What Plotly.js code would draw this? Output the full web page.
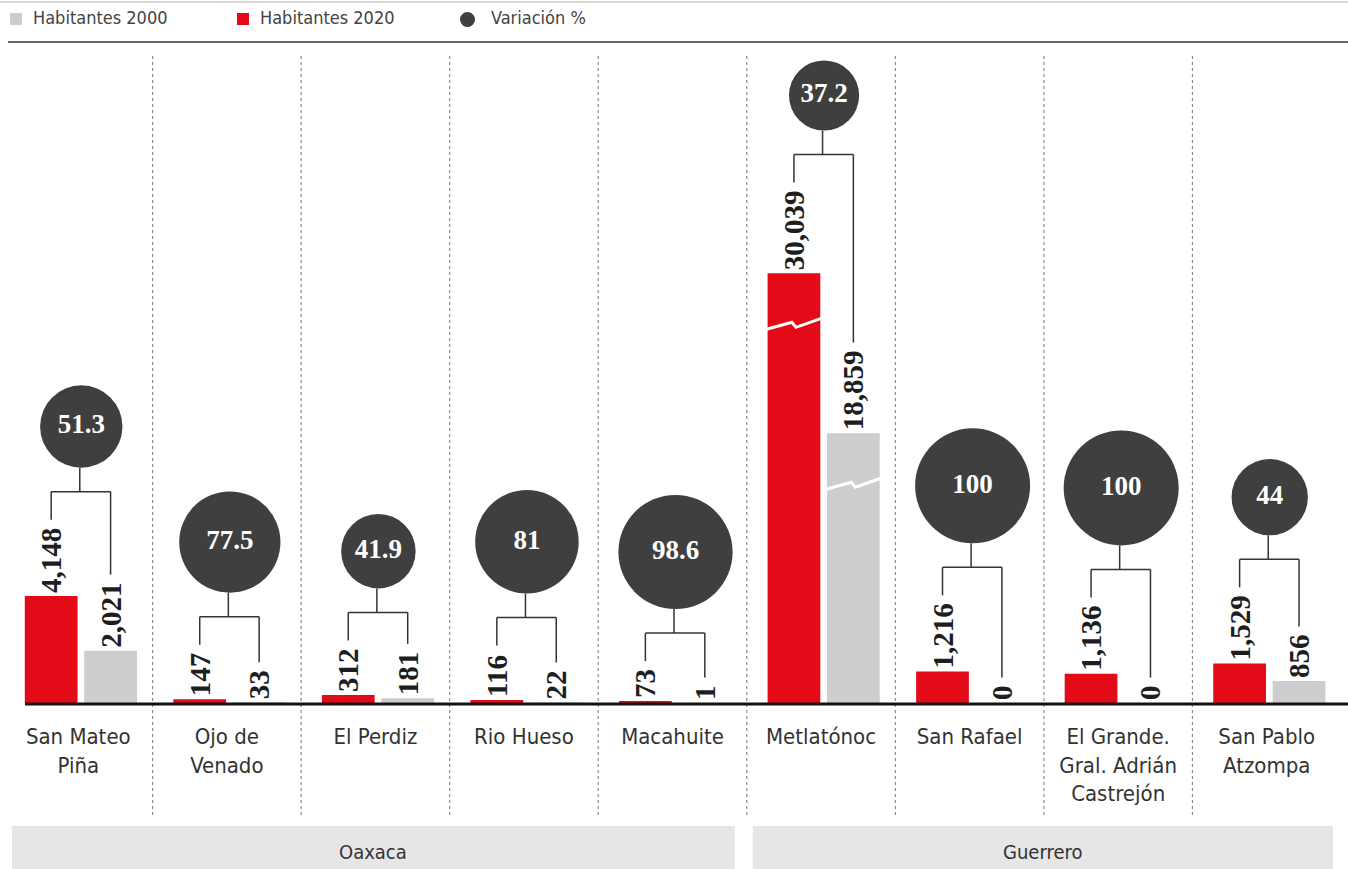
<!DOCTYPE html>
<html><head><meta charset="utf-8">
<script src="https://cdn.plot.ly/plotly-3.0.1.min.js"></script>
<style>html,body{margin:0;padding:0;background:#fff}#chart{width:1348px;height:869px}</style>
</head><body><div id="chart"></div>
<script>
// ---- data ----
const categories = ['San Mateo<br>Piña','Ojo de<br>Venado','El Perdiz','Rio Hueso','Macahuite','Metlatónoc','San Rafael','El Grande.<br>Gral. Adrián<br>Castrejón','San Pablo<br>Atzompa'];
const hab2020 = [4148, 147, 312, 116, 73, 30039, 1216, 1136, 1529];
const hab2000 = [2021, 33, 181, 22, 1, 18859, 0, 0, 856];
const variacion = [51.3, 77.5, 41.9, 81, 98.6, 37.2, 100, 100, 44];
const estados = ['Oaxaca','Oaxaca','Oaxaca','Oaxaca','Oaxaca','Guerrero','Guerrero','Guerrero','Guerrero'];
const legendNames = ['Habitantes 2000','Habitantes 2020','Variación %'];

// ---- layout geometry ----
const W = 1348, H = 869, L = 4, R = 7, T = 45, B = 166;
const plotW = W - L - R, plotH = H - T - B, baseY = H - B;
const n = categories.length, colW = plotW / n;
const yMax = 25500, y2Max = 46000;
const sMain = plotH / yMax, sBroken = plotH / y2Max;
const RED = '#e30b17', GRAY = '#cdcdcf', DARK = '#3f3f3f';
const serif = 'Liberation Serif, DejaVu Serif, serif';
const narrow = 'Liberation Sans Narrow, DejaVu Sans Condensed, Roboto, sans-serif';
const LBL = 29;
const redOff = -0.36, grayOff = 0.04, bw = 0.355;
const PX = i => L + (i + 0.5) * colW;
const PXo = (i, off) => L + (i + 0.5 + off) * colW;
const PX2 = px => (px - L) / plotW;
const PY2 = py => (baseY - py) / plotH;
const fmt = v => v.toLocaleString('en-US');
const labelLen = s => LBL * (0.5 * s.replace(/[^0-9]/g, '').length + 0.25 * (s.match(/,/g) || []).length);
const K = 11.5;               // circle diameter = K * sqrt(value) px
const diam = v => K * Math.sqrt(v);

const broken = hab2020.map((v, i) => Math.max(v, hab2000[i]) > yMax * 0.9);
const idx = categories.map((c, i) => i);

function barTrace(vals, off, color, name, useBroken) {
  return {
    type: 'bar', name: name, showlegend: false,
    x: idx, y: vals.map((v, i) => broken[i] === useBroken ? v : null),
    yaxis: useBroken ? 'y2' : 'y',
    offset: off, width: bw,
    marker: {color: color, line: {width: 0}},
    text: vals.map((v, i) => broken[i] === useBroken ? fmt(v) : ''),
    textposition: 'outside', textangle: -90, constraintext: 'none', cliponaxis: false,
    textfont: {family: serif, size: LBL, color: '#1e1e1e', weight: 700},
    hovertemplate: '%{y:,}<extra>' + name + '</extra>'
  };
}

const shapes = [], annotations = [];
const circY = [];
for (let i = 0; i < n; i++) {
  const s = broken[i] ? sBroken : sMain;
  const legs = [[hab2020[i], redOff], [hab2000[i], grayOff]].map(([v, off]) => {
    const top = baseY - v * s;
    const end = top - 4 - labelLen(fmt(v)) - 7;
    return {x: PXo(i, off + bw / 2), end: end};
  });
  const bracketY = Math.min(legs[0].end, legs[1].end) - 28;
  const cx = PX(i) + 1.5;
  const d = diam(variacion[i]);
  const cBottom = bracketY - 24;
  circY.push((baseY - (cBottom - d / 2)) / sMain);
  const line = {color: '#333', width: 1.5};
  shapes.push({type: 'line', xref: 'paper', yref: 'paper', x0: PX2(cx), x1: PX2(cx), y0: PY2(cBottom), y1: PY2(bracketY), line: line});
  shapes.push({type: 'line', xref: 'paper', yref: 'paper', x0: PX2(legs[0].x), x1: PX2(legs[1].x), y0: PY2(bracketY), y1: PY2(bracketY), line: line});
  legs.forEach(lg => shapes.push({type: 'line', xref: 'paper', yref: 'paper', x0: PX2(lg.x), x1: PX2(lg.x), y0: PY2(bracketY), y1: PY2(lg.end), line: line}));
  if (broken[i]) {
    [[hab2020[i], redOff], [hab2000[i], grayOff]].forEach(([v, off]) => {
      const top = baseY - v * s;
      const y0 = top + 48;
      const xl = PXo(i, off), xr = PXo(i, off + bw), xm = (xl + xr) / 2;
      const pts = [[xl - 1, y0 + 8], [xm - 2, y0 + 1], [xm + 2, y0 + 6], [xr + 1, y0 - 3]];
      const path = pts.map((p, k) => (k ? 'L' : 'M') + PX2(p[0]).toFixed(5) + ',' + PY2(p[1]).toFixed(5)).join(' ');
      shapes.push({type: 'path', xref: 'paper', yref: 'paper', path: path, line: {color: '#fff', width: 3}});
    });
  }
}

for (let i = 0; i < n - 1; i++) {
  const x = PX2(L + (i + 1) * colW);
  shapes.push({type: 'line', layer: 'below', xref: 'paper', yref: 'paper', x0: x, x1: x, y0: PY2(815), y1: PY2(56), line: {color: '#8a8a8a', width: 1.2, dash: 'dot'}});
}
shapes.push({type: 'line', xref: 'paper', yref: 'paper', x0: PX2(25), x1: PX2(W), y0: PY2(baseY + 1), y1: PY2(baseY + 1), line: {color: '#111', width: 3}});
shapes.push({type: 'line', xref: 'paper', yref: 'paper', x0: PX2(0), x1: PX2(W), y0: PY2(2), y1: PY2(2), line: {color: '#b0b0b0', width: 1}});
shapes.push({type: 'line', xref: 'paper', yref: 'paper', x0: PX2(8), x1: PX2(W), y0: PY2(42), y1: PY2(42), line: {color: '#666', width: 2}});

const legX = [10, 237, 460];
const legColors = [GRAY, RED, DARK];
legendNames.forEach((nm, k) => {
  const x0 = legX[k];
  if (k < 2) shapes.push({type: 'rect', xref: 'paper', yref: 'paper', x0: PX2(x0), x1: PX2(x0 + 12), y0: PY2(13), y1: PY2(25), fillcolor: legColors[k], line: {width: 0}});
  else shapes.push({type: 'circle', xref: 'paper', yref: 'paper', x0: PX2(x0), x1: PX2(x0 + 15), y0: PY2(12), y1: PY2(27), fillcolor: legColors[k], line: {width: 0}});
  annotations.push({xref: 'paper', yref: 'paper', x: PX2(x0 + (k < 2 ? 21 : 29)), y: PY2(18), xanchor: 'left', yanchor: 'middle', showarrow: false, text: nm, font: {family: narrow, size: 18, color: '#444'}});
});

const groups = [];
estados.forEach((e, i) => {
  if (!groups.length || groups[groups.length - 1].name !== e) groups.push({name: e, a: i, b: i});
  else groups[groups.length - 1].b = i;
});
groups.forEach((g, k) => {
  const x0 = L + g.a * colW + (k === 0 ? 8 : 6);
  const x1 = L + (g.b + 1) * colW - (k === groups.length - 1 ? 8 : 12);
  shapes.push({type: 'rect', layer: 'below', xref: 'paper', yref: 'paper', x0: PX2(x0), x1: PX2(x1), y0: PY2(826), y1: PY2(H + 5), fillcolor: '#e6e6e6', line: {width: 0}});
  annotations.push({xref: 'paper', yref: 'paper', x: PX2((x0 + x1) / 2), y: PY2(852), xanchor: 'center', yanchor: 'middle', showarrow: false, text: g.name, font: {family: narrow, size: 20, color: '#333'}});
});

const traces = [
  barTrace(hab2020, redOff, RED, 'Habitantes 2020', false),
  barTrace(hab2000, grayOff, GRAY, 'Habitantes 2000', false),
  barTrace(hab2020, redOff, RED, 'Habitantes 2020', true),
  barTrace(hab2000, grayOff, GRAY, 'Habitantes 2000', true),
  {
    type: 'scatter', mode: 'markers+text', name: 'Variación %', showlegend: false,
    x: idx.map(i => i + 3 / colW), y: circY,
    marker: {size: variacion, sizemode: 'area', sizeref: 2 / (K * K), color: DARK, opacity: 1, line: {width: 0}},
    text: variacion.map(v => String(v)), textposition: 'middle center',
    textfont: {family: serif, size: 27, color: '#fff', weight: 700},
    cliponaxis: false, hovertemplate: '%{text}%<extra></extra>'
  }
];

const layout = {
  width: W, height: H, margin: {l: L, r: R, t: T, b: B},
  paper_bgcolor: '#fff', plot_bgcolor: 'rgba(0,0,0,0)',
  barmode: 'overlay', showlegend: false,
  xaxis: {range: [-0.5, n - 0.5], tickvals: idx, ticktext: categories, ticks: '', showgrid: false, zeroline: false, showline: false,
          ticklabelstandoff: 18, tickfont: {family: narrow, size: 22, color: '#333'}, fixedrange: true},
  yaxis: {range: [0, yMax], visible: false, fixedrange: true},
  yaxis2: {range: [0, y2Max], overlaying: 'y', visible: false, fixedrange: true},
  shapes: shapes, annotations: annotations
};
Plotly.newPlot('chart', traces, layout, {displayModeBar: false, staticPlot: true});
</script></body></html>
